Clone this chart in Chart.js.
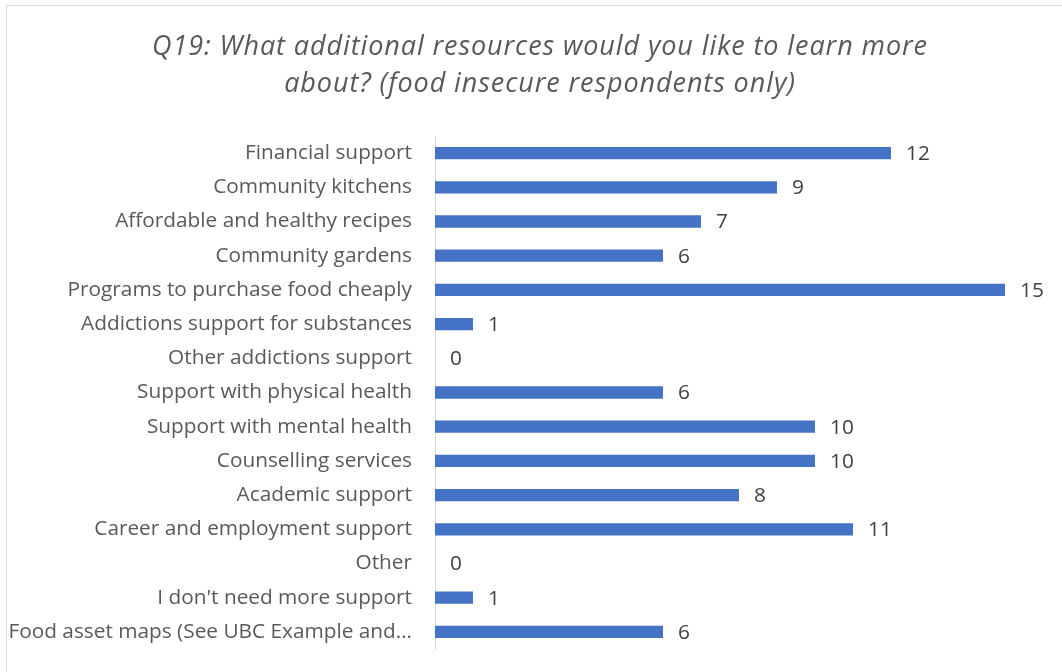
<!DOCTYPE html>
<html>
<head>
<meta charset="utf-8">
<script src="https://cdn.jsdelivr.net/npm/chart.js@4.4.1/dist/chart.umd.min.js"></script>
<style>
  html, body { margin: 0; padding: 0; background: #fff; }
  #wrap { width: 1062px; height: 672px; position: relative; }
</style>
</head>
<body>
<div id="wrap"><canvas id="resChart" width="1062" height="672"></canvas></div>
<script>
// survey answers, top to bottom
var resources = [
  'Financial support',
  'Community kitchens',
  'Affordable and healthy recipes',
  'Community gardens',
  'Programs to purchase food cheaply',
  'Addictions support for substances',
  'Other addictions support',
  'Support with physical health',
  'Support with mental health',
  'Counselling services',
  'Academic support',
  'Career and employment support',
  'Other',
  "I don't need more support",
  'Food asset maps (See UBC Example and\u2026'
];
var counts = [12, 9, 7, 6, 15, 1, 0, 6, 10, 10, 8, 11, 0, 1, 6];
var titleLines = [
  'Q19: What additional resources would you like to learn more',
  'about? (food insecure respondents only)'
];

var FONT = '"Open Sans", Lato, sans-serif';

// frame + title
var framePlugin = {
  id: 'frame',
  beforeDraw: function(chart) {
    var c = chart.ctx;
    c.save();
    c.fillStyle = '#fff';
    c.fillRect(0, 0, chart.width, chart.height);
    c.strokeStyle = '#d9d9d9';
    c.lineWidth = 1;
    c.strokeRect(6.5, 5.5, 1200, 800);
    c.fillStyle = '#595959';
    c.font = 'italic 27px ' + FONT;
    c.letterSpacing = '0.9px';
    c.textAlign = 'center';
    c.textBaseline = 'alphabetic';
    c.fillText(titleLines[0], 540, 55);
    c.fillText(titleLines[1], 540, 92);
    c.restore();
  }
};

// numbers at the end of each bar
var valueLabels = {
  id: 'valueLabels',
  afterDatasetsDraw: function(chart) {
    var c = chart.ctx;
    var meta = chart.getDatasetMeta(0);
    c.save();
    c.fillStyle = '#404040';
    c.font = '20.8px ' + FONT;
    c.textAlign = 'left';
    c.textBaseline = 'middle';
    meta.data.forEach(function(bar, i) {
      c.fillText(String(counts[i]), bar.x + 15, bar.y + 1);
    });
    c.restore();
  }
};

var ctx = document.getElementById('resChart').getContext('2d');
var myChart = new Chart(ctx, {
  type: 'bar',
  data: {
    labels: resources,
    datasets: [{
      data: counts,
      backgroundColor: '#4472c4',
      barPercentage: 0.36,
      categoryPercentage: 1.0
    }]
  },
  options: {
    indexAxis: 'y',
    responsive: false,
    animation: false,
    layout: { padding: { left: 0, top: 136, right: 19, bottom: 23 } },
    plugins: {
      legend: { display: false },
      tooltip: { enabled: false },
      title: { display: false }
    },
    scales: {
      x: {
        display: false,
        min: 0,
        max: 16
      },
      y: {
        grid: { display: false, drawTicks: false },
        border: { display: true, color: '#d9d9d9', width: 1 },
        ticks: {
          color: '#595959',
          font: { family: FONT, size: 20.8 },
          padding: 23,
          autoSkip: false
        },
        afterFit: function(scale) {
          scale.width = 435;
          // labels sit on category centres, no extra room needed
          scale.paddingTop = 0;
          scale.paddingBottom = 0;
        }
      }
    }
  },
  plugins: [framePlugin, valueLabels]
});
</script>
</body>
</html>
